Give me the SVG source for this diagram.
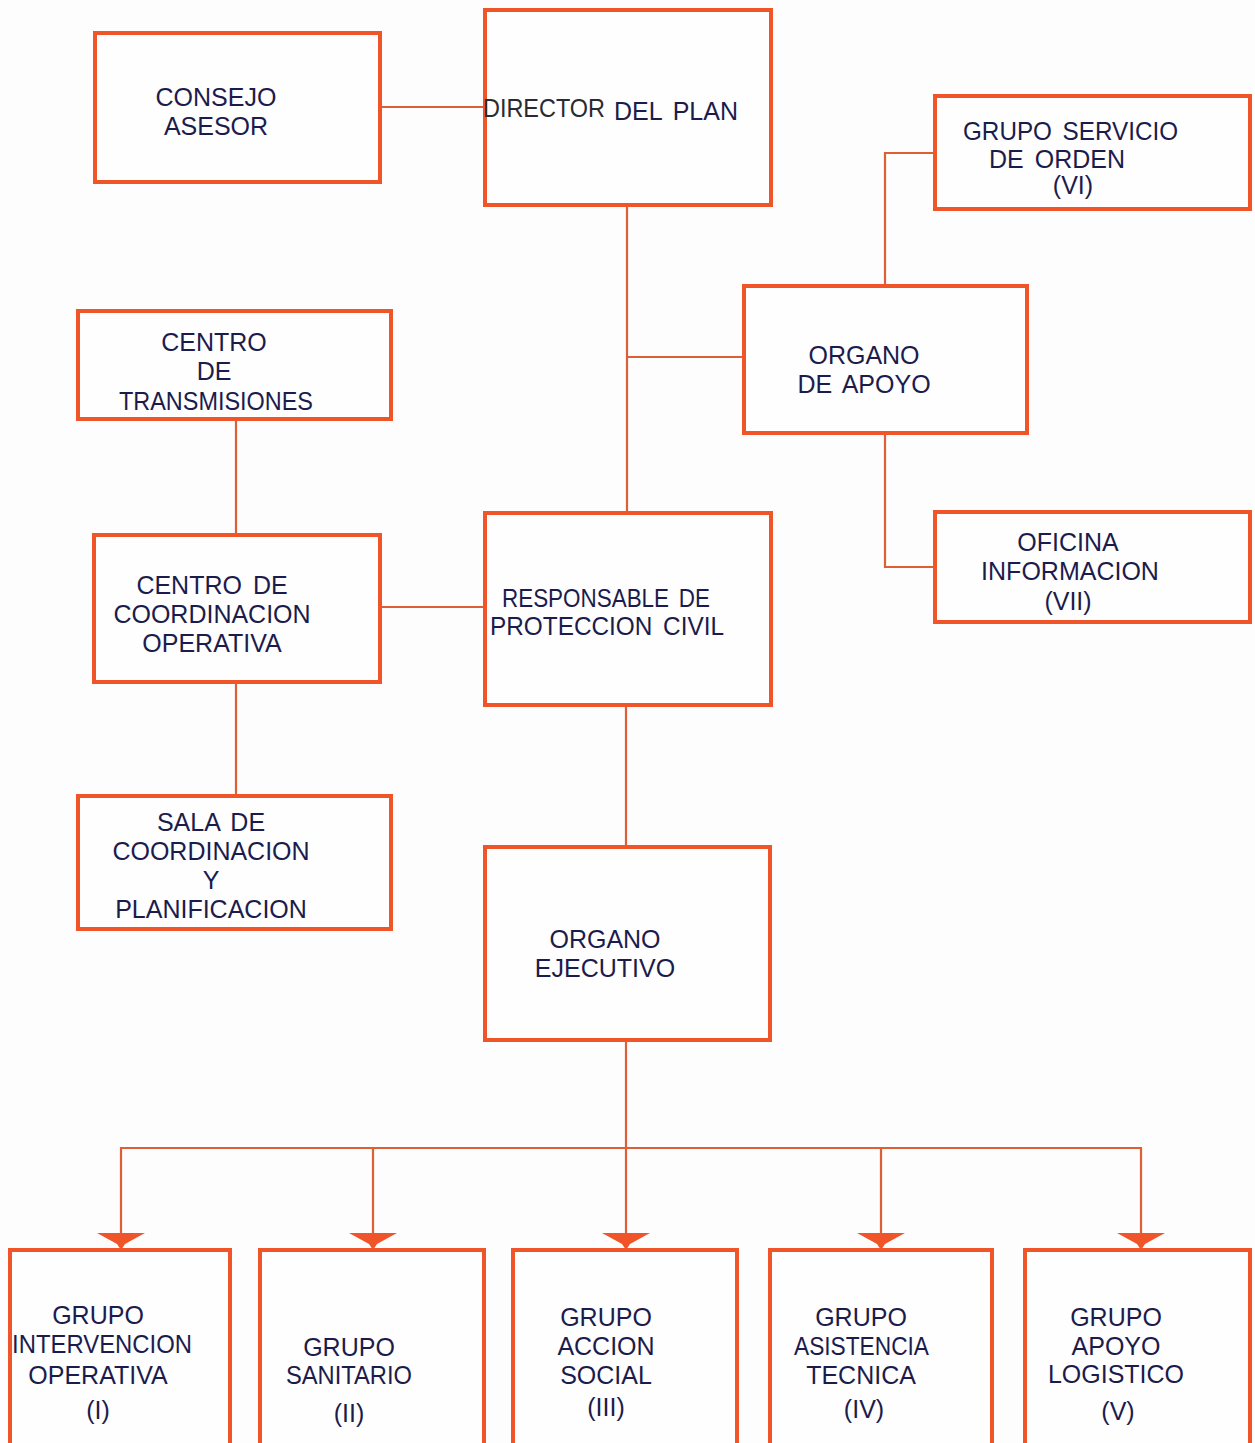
<svg xmlns="http://www.w3.org/2000/svg" width="1255" height="1443" viewBox="0 0 1255 1443">
<style>
.box{fill:#fefefe;stroke:#F0552A;stroke-width:4}
.t{font-family:"Liberation Sans",Arial,sans-serif;font-size:25px;fill:#1c1c4c;text-anchor:middle;word-spacing:4px}
.c{fill:none;stroke:#DC5F35;stroke-width:2.2}
.ah{fill:#F0552A}
</style>
<rect width="1255" height="1443" fill="#fdfdfd"/>
<g id="connectors">
<path class="c" d="M380 107H485"/>
<path class="c" d="M627 205V513"/>
<path class="c" d="M627 357H744"/>
<path class="c" d="M885 286V153H935"/>
<path class="c" d="M885 433V567H935"/>
<path class="c" d="M236 419V535"/>
<path class="c" d="M380 607H485"/>
<path class="c" d="M236 682V796"/>
<path class="c" d="M626 705V847"/>
<path class="c" d="M626 1040V1148"/>
<path class="c" d="M121 1236V1148H1141V1236"/>
<path class="c" d="M373 1148V1236"/>
<path class="c" d="M626 1148V1236"/>
<path class="c" d="M881 1148V1236"/>
<polygon class="ah" points="97,1233 145,1233 125,1244 121,1250 117,1244"/>
<polygon class="ah" points="349,1233 397,1233 377,1244 373,1250 369,1244"/>
<polygon class="ah" points="602,1233 650,1233 630,1244 626,1250 622,1244"/>
<polygon class="ah" points="857,1233 905,1233 885,1244 881,1250 877,1244"/>
<polygon class="ah" points="1117,1233 1165,1233 1145,1244 1141,1250 1137,1244"/>
</g>
<g id="consejo"><rect class="box" x="95" y="33" width="285" height="149"/>
<text class="t" x="216" y="106">CONSEJO</text><text class="t" x="216" y="135">ASESOR</text></g>
<g id="director"><rect class="box" x="485" y="10" width="286" height="195"/>
<text class="t" x="483" y="117" textLength="122" lengthAdjust="spacingAndGlyphs" style="text-anchor:start;fill:#2a2a33">DIRECTOR</text>
<text class="t" x="614" y="120" style="text-anchor:start">DEL PLAN</text></g>
<g id="servicio-orden"><rect class="box" x="935" y="96" width="315" height="113"/>
<text class="t" x="963" y="140" textLength="215" lengthAdjust="spacingAndGlyphs" style="text-anchor:start">GRUPO SERVICIO</text><text class="t" x="1057" y="168">DE ORDEN</text><text class="t" x="1073" y="194">(VI)</text></g>
<g id="organo-apoyo"><rect class="box" x="744" y="286" width="283" height="147"/>
<text class="t" x="864" y="364">ORGANO</text><text class="t" x="864" y="393">DE APOYO</text></g>
<g id="transmisiones"><rect class="box" x="78" y="311" width="313" height="108"/>
<text class="t" x="214" y="351">CENTRO</text><text class="t" x="214" y="380">DE</text><text class="t" x="119" y="410" textLength="194" lengthAdjust="spacingAndGlyphs" style="text-anchor:start">TRANSMISIONES</text></g>
<g id="cco"><rect class="box" x="94" y="535" width="286" height="147"/>
<text class="t" x="212" y="594">CENTRO DE</text><text class="t" x="212" y="623">COORDINACION</text><text class="t" x="212" y="652">OPERATIVA</text></g>
<g id="responsable"><rect class="box" x="485" y="513" width="286" height="192"/>
<text class="t" x="502" y="607" textLength="208" lengthAdjust="spacingAndGlyphs" style="text-anchor:start">RESPONSABLE DE</text><text class="t" x="490" y="635" textLength="234" lengthAdjust="spacingAndGlyphs" style="text-anchor:start">PROTECCION CIVIL</text></g>
<g id="oficina"><rect class="box" x="935" y="512" width="315" height="110"/>
<text class="t" x="1068" y="551">OFICINA</text><text class="t" x="1070" y="580">INFORMACION</text><text class="t" x="1068" y="610">(VII)</text></g>
<g id="sala"><rect class="box" x="78" y="796" width="313" height="133"/>
<text class="t" x="211" y="831">SALA DE</text><text class="t" x="211" y="860">COORDINACION</text><text class="t" x="211" y="889">Y</text><text class="t" x="211" y="918">PLANIFICACION</text></g>
<g id="organo-ejecutivo"><rect class="box" x="485" y="847" width="285" height="193"/>
<text class="t" x="605" y="948">ORGANO</text><text class="t" x="605" y="977">EJECUTIVO</text></g>
<g id="g1"><rect class="box" x="10" y="1250" width="220" height="200"/>
<text class="t" x="98" y="1324">GRUPO</text><text class="t" x="12" y="1353" textLength="180" lengthAdjust="spacingAndGlyphs" style="text-anchor:start">INTERVENCION</text><text class="t" x="98" y="1384">OPERATIVA</text><text class="t" x="98" y="1419">(I)</text></g>
<g id="g2"><rect class="box" x="260" y="1250" width="224" height="200"/>
<text class="t" x="349" y="1356">GRUPO</text><text class="t" x="286" y="1384" textLength="126" lengthAdjust="spacingAndGlyphs" style="text-anchor:start">SANITARIO</text><text class="t" x="349" y="1422">(II)</text></g>
<g id="g3"><rect class="box" x="513" y="1250" width="224" height="200"/>
<text class="t" x="606" y="1326">GRUPO</text><text class="t" x="606" y="1355">ACCION</text><text class="t" x="606" y="1384">SOCIAL</text><text class="t" x="606" y="1416">(III)</text></g>
<g id="g4"><rect class="box" x="770" y="1250" width="222" height="200"/>
<text class="t" x="861" y="1326">GRUPO</text><text class="t" x="794" y="1355" textLength="135" lengthAdjust="spacingAndGlyphs" style="text-anchor:start">ASISTENCIA</text><text class="t" x="861" y="1384">TECNICA</text><text class="t" x="864" y="1418">(IV)</text></g>
<g id="g5"><rect class="box" x="1025" y="1250" width="225" height="200"/>
<text class="t" x="1116" y="1326">GRUPO</text><text class="t" x="1116" y="1355">APOYO</text><text class="t" x="1116" y="1383">LOGISTICO</text><text class="t" x="1118" y="1420">(V)</text></g>
</svg>
